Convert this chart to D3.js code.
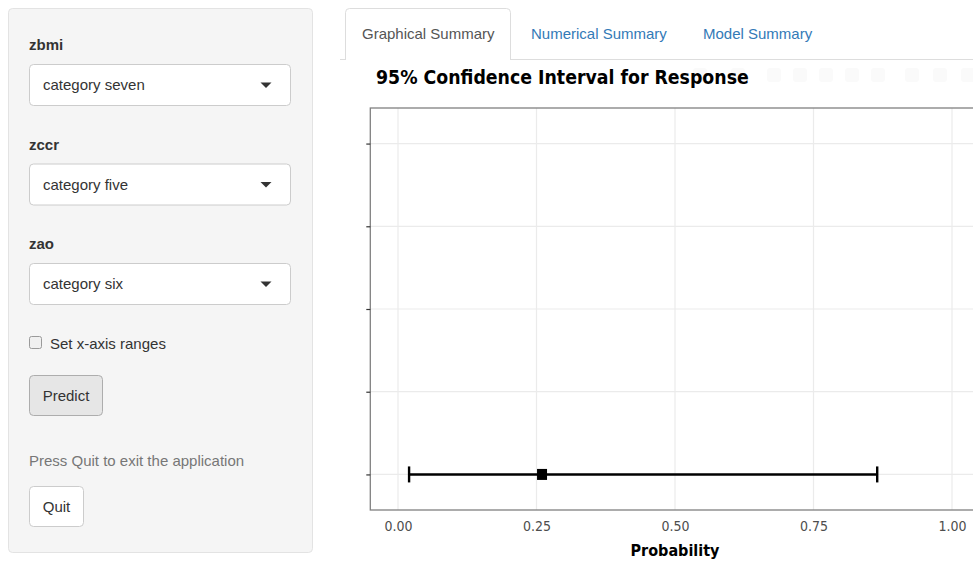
<!DOCTYPE html>
<html>
<head>
<meta charset="utf-8">
<script src="https://cdn.jsdelivr.net/npm/d3@7"></script>
<style>
  html, body { margin: 0; padding: 0; background: #ffffff; }
  svg { display: block; }
</style>
</head>
<body>
<svg id="app" width="973" height="561"></svg>
<script>
// ---- data ----
const rowLevels = [1, 2, 3, 4, 5];            // y positions of the (unlabelled) rows
const xTickValues = [0, 0.25, 0.5, 0.75, 1];
const xTickLabels = ["0.00", "0.25", "0.50", "0.75", "1.00"];
const intervalRow = [1];
const intervalLower = [0.02];
const intervalEstimate = [0.26];
const intervalUpper = [0.865];

// sidebar inputs
const inputNames = ["zbmi", "zccr", "zao"];
const inputChoices = ["category seven", "category five", "category six"];
const tabNames = ["Graphical Summary", "Numerical Summary", "Model Summary"];

const svg = d3.select("#app");
const uiFont = "'Liberation Sans', Arial, sans-serif";
const plotFont = "'DejaVu Sans Condensed', 'DejaVu Sans', sans-serif";
const uiSize = 15;

// ---- sidebar well ----
const side = svg.append("g");
side.append("rect")
  .attr("x", 8.5).attr("y", 8.5).attr("width", 304).attr("height", 544)
  .attr("rx", 4).attr("fill", "#f5f5f5").attr("stroke", "#e3e3e3");

inputNames.forEach((name, i) => {
  const top = 64 + i * 99.5;
  side.append("text")
    .attr("x", 29).attr("y", top - 14)
    .attr("font-family", uiFont).attr("font-weight", "bold").attr("font-size", 15)
    .attr("fill", "#333").text(name);
  side.append("rect")
    .attr("x", 29.5).attr("y", top + 0.5).attr("width", 261).attr("height", 41)
    .attr("rx", 4).attr("fill", "#fff").attr("stroke", "#cccccc");
  side.append("text")
    .attr("x", 43).attr("y", top + 26)
    .attr("font-family", uiFont).attr("font-size", uiSize)
    .attr("fill", "#333").text(inputChoices[i]);
  side.append("path")
    .attr("d", `M${260.5},${top + 18.5} L${271.5},${top + 18.5} L${266},${top + 24} Z`)
    .attr("fill", "#333");
});

// checkbox
side.append("rect")
  .attr("x", 29.5).attr("y", 336.5).attr("width", 12).attr("height", 12)
  .attr("rx", 2).attr("fill", "#f0f0f0").attr("stroke", "#9a9a9a");
side.append("text")
  .attr("x", 50).attr("y", 348.5)
  .attr("font-family", uiFont).attr("font-size", uiSize)
  .attr("fill", "#333").text("Set x-axis ranges");

// Predict button
side.append("rect")
  .attr("x", 29.5).attr("y", 375.5).attr("width", 73).attr("height", 40)
  .attr("rx", 4).attr("fill", "#e6e6e6").attr("stroke", "#adadad");
side.append("text")
  .attr("x", 66).attr("y", 400.5).attr("text-anchor", "middle")
  .attr("font-family", uiFont).attr("font-size", uiSize)
  .attr("fill", "#333").text("Predict");

side.append("text")
  .attr("x", 29).attr("y", 466)
  .attr("font-family", uiFont).attr("font-size", uiSize)
  .attr("fill", "#777").text("Press Quit to exit the application");

// Quit button
side.append("rect")
  .attr("x", 29.5).attr("y", 486.5).attr("width", 54).attr("height", 40)
  .attr("rx", 4).attr("fill", "#fff").attr("stroke", "#cccccc");
side.append("text")
  .attr("x", 56.5).attr("y", 511.5).attr("text-anchor", "middle")
  .attr("font-family", uiFont).attr("font-size", uiSize)
  .attr("fill", "#333").text("Quit");

// ---- tabs ----
const tabs = svg.append("g");
tabs.append("line")
  .attr("x1", 340).attr("x2", 973).attr("y1", 59.5).attr("y2", 59.5)
  .attr("stroke", "#dddddd");
tabs.append("path")
  .attr("d", "M345.5,60 L345.5,12.5 Q345.5,8.5 349.5,8.5 L506.5,8.5 Q510.5,8.5 510.5,12.5 L510.5,60")
  .attr("fill", "#fff").attr("stroke", "#dddddd");
const tabX = [362, 531, 703];
tabNames.forEach((t, i) => {
  tabs.append("text")
    .attr("x", tabX[i]).attr("y", 38.5)
    .attr("font-family", uiFont).attr("font-size", uiSize)
    .attr("fill", i === 0 ? "#555" : "#337ab7").text(t);
});

// ---- plot ----
const x = d3.scaleLinear().domain([0, 1]).range([398, 952]);
const y = d3.scaleLinear().domain([0.57, 5.43]).range([510, 108]);
const panelLeft = x(-0.05), panelRight = x(1.05);

const plot = svg.append("g");

// faint modebar glyphs
const modebarX = [700, 738, 774, 800, 826, 852, 878, 912, 940, 968];
plot.selectAll("rect.mb").data(modebarX).join("rect")
  .attr("class", "mb")
  .attr("x", d => d - 7).attr("y", 68).attr("width", 14).attr("height", 14)
  .attr("rx", 3).attr("fill", "#fafafa");

const title = plot.append("text")
  .attr("x", 376).attr("y", 84)
  .attr("font-family", plotFont).attr("font-weight", "bold").attr("font-size", 20)
  .attr("fill", "#000").text("95% Confidence Interval for Response");
// fit the title to its line length
const tw = title.node().getComputedTextLength();
title.attr("font-size", 20 * 373 / tw);

// grid
plot.append("g").selectAll("line").data(xTickValues).join("line")
  .attr("x1", d => x(d)).attr("x2", d => x(d))
  .attr("y1", y.range()[1]).attr("y2", y.range()[0])
  .attr("stroke", "#ebebeb").attr("stroke-width", 1.2);
plot.append("g").selectAll("line").data(rowLevels).join("line")
  .attr("x1", panelLeft).attr("x2", panelRight)
  .attr("y1", d => y(d)).attr("y2", d => y(d))
  .attr("stroke", "#ebebeb").attr("stroke-width", 1.2);

// panel border
plot.append("rect")
  .attr("x", panelLeft).attr("y", y.range()[1])
  .attr("width", panelRight - panelLeft).attr("height", y.range()[0] - y.range()[1])
  .attr("fill", "none").attr("stroke", "#808080").attr("stroke-width", 1.3);

// y axis ticks, no labels
const yAxis = d3.axisLeft(y).tickValues(rowLevels).tickFormat(() => "").tickSize(4).tickSizeOuter(0);
const yg = plot.append("g").attr("transform", `translate(${panelLeft},0)`).call(yAxis);
yg.select(".domain").remove();
yg.selectAll(".tick line").attr("stroke", "#333").attr("stroke-width", 1.2);

// x axis labels
const xAxis = d3.axisBottom(x).tickValues(xTickValues)
  .tickFormat((d, i) => xTickLabels[i]).tickSize(0).tickPadding(11);
const xg = plot.append("g").attr("transform", `translate(0,${y.range()[0]})`).call(xAxis);
xg.select(".domain").remove();
xg.selectAll(".tick text")
  .attr("font-family", plotFont).attr("font-size", 14).attr("fill", "#4d4d4d");

plot.append("text")
  .attr("x", x(0.5)).attr("y", 556).attr("text-anchor", "middle")
  .attr("font-family", plotFont).attr("font-weight", "bold").attr("font-size", 16)
  .attr("fill", "#000").text("Probability");

// error bar
const eb = plot.append("g");
intervalRow.forEach((r, i) => {
  const cy = y(r);
  eb.append("line")
    .attr("x1", x(intervalLower[i])).attr("x2", x(intervalUpper[i]))
    .attr("y1", cy).attr("y2", cy)
    .attr("stroke", "#000").attr("stroke-width", 2.4);
  [intervalLower[i], intervalUpper[i]].forEach(v => {
    eb.append("line")
      .attr("x1", x(v)).attr("x2", x(v))
      .attr("y1", cy - 8).attr("y2", cy + 8)
      .attr("stroke", "#000").attr("stroke-width", 2.4);
  });
  eb.append("rect")
    .attr("x", x(intervalEstimate[i]) - 5).attr("y", cy - 5.5)
    .attr("width", 10).attr("height", 11)
    .attr("fill", "#000");
});
</script>
</body>
</html>
